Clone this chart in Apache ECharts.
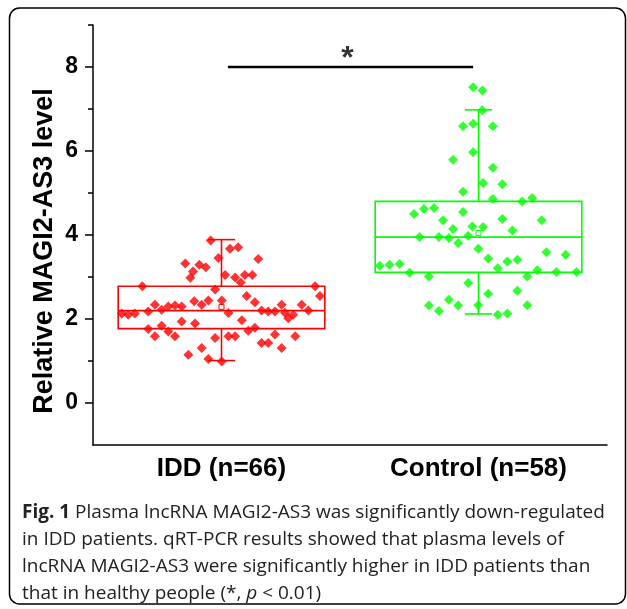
<!DOCTYPE html>
<html>
<head>
<meta charset="utf-8">
<script src="https://cdn.jsdelivr.net/npm/echarts@6/dist/echarts.min.js"></script>
<style>
html, body { margin: 0; padding: 0; background: #fff; }
#main { width: 627px; height: 609px; }
</style>
</head>
<body>
<div id="main"></div>
<script>
// groups and their colours
var groups = ['IDD (n=66)', 'Control (n=58)'];
var groupColors = ['#ff0000', '#00ff00'];

// box statistics: [IDD, Control]
var whiskerLow = [1.01, 2.12];
var q1 = [1.77, 3.11];
var median = [2.20, 3.95];
var q3 = [2.78, 4.80];
var whiskerHigh = [3.89, 6.98];
var means = [2.29, 4.05];

// individual samples, [jittered x, value]
var iddPoints = [
  [0.958, 3.87], [0.988, 3.45], [1.033, 3.67], [1.065, 3.71], [1.143, 3.43], [0.859, 3.32],
  [0.889, 3.13], [0.879, 2.98], [0.914, 3.29], [0.939, 3.23], [1.014, 3.05], [1.053, 2.99],
  [1.091, 3.05], [1.120, 3.05], [1.075, 2.87], [0.975, 2.70], [0.692, 2.78], [1.098, 2.55],
  [1.130, 2.40], [0.949, 2.44], [0.923, 2.34], [0.894, 2.42], [1.001, 2.44], [0.741, 2.34],
  [0.715, 2.18], [0.767, 2.22], [0.793, 2.30], [0.819, 2.32], [0.845, 2.30], [1.027, 2.14],
  [1.156, 2.20], [1.182, 2.18], [1.208, 2.18], [1.234, 2.34], [0.612, 2.13], [0.637, 2.10],
  [0.663, 2.13], [0.845, 1.94], [0.897, 1.89], [1.079, 1.97], [1.260, 2.02], [1.279, 2.10],
  [1.312, 2.34], [1.338, 2.20], [1.364, 2.78], [1.383, 2.55], [0.715, 1.76], [0.767, 1.84],
  [0.793, 1.70], [0.819, 1.59], [0.741, 1.59], [0.975, 1.55], [1.027, 1.59], [1.053, 1.59],
  [1.104, 1.72], [1.130, 1.79], [1.156, 1.43], [1.182, 1.43], [1.208, 1.63], [1.234, 1.31],
  [1.287, 1.59], [0.871, 1.15], [0.923, 1.31], [0.949, 1.05], [1.001, 0.99], [1.247, 2.15]
];
var controlPoints = [
  [1.979, 7.52], [2.015, 7.44], [2.015, 6.97], [1.940, 6.59], [1.979, 6.65], [2.056, 6.59],
  [1.979, 5.97], [1.901, 5.79], [2.056, 5.60], [2.018, 5.24], [2.093, 5.21], [1.940, 5.03],
  [2.056, 4.86], [2.170, 4.80], [2.209, 4.88], [1.749, 4.50], [1.788, 4.62], [1.827, 4.64],
  [1.940, 4.55], [1.862, 4.35], [1.901, 4.14], [1.976, 4.20], [2.018, 4.19], [2.093, 4.38],
  [2.132, 4.11], [2.246, 4.35], [1.771, 3.95], [1.846, 3.95], [1.885, 3.93], [1.921, 3.81],
  [1.960, 3.98], [1.999, 3.67], [2.038, 3.44], [2.075, 3.21], [2.112, 3.37], [2.151, 3.41],
  [2.264, 3.59], [2.339, 3.53], [1.616, 3.27], [1.654, 3.29], [1.693, 3.31], [1.732, 3.10],
  [1.807, 3.01], [2.190, 3.01], [2.229, 3.16], [2.303, 3.12], [2.381, 3.12], [1.960, 2.86],
  [2.038, 2.60], [2.151, 2.67], [1.807, 2.32], [1.846, 2.19], [1.885, 2.46], [1.921, 2.32],
  [1.999, 2.33], [2.190, 2.33], [2.075, 2.10], [2.112, 2.13]
];

// significance bracket
var sigBar = [[1.025, 8], [1.979, 8]];
var sigMark = [[1.49, 8]];

// y axis ticks
var yMajor = [0, 2, 4, 6, 8];
var yMinor = [1, 3, 5, 7, 9];

var boxHalf = 0.402;
var capHalf = 0.053;

var boxData = groups.map(function (g, i) {
  return [i + 1, whiskerLow[i], q1[i], median[i], q3[i], whiskerHigh[i], means[i]];
});

function renderBox(params, api) {
  var x = api.value(0);
  var color = groupColors[params.dataIndex];
  var p = function (dx, y) { return api.coord([x + dx, y]); };
  var st = { stroke: color, fill: null, lineWidth: 1.6 };
  var lt = p(-boxHalf, api.value(4));
  var rb = p(boxHalf, api.value(2));
  var m = p(0, api.value(6));
  function seg(a, b) {
    return { type: 'line', shape: { x1: a[0], y1: a[1], x2: b[0], y2: b[1] }, style: st };
  }
  return {
    type: 'group',
    children: [
      { type: 'rect', shape: { x: lt[0], y: lt[1], width: rb[0] - lt[0], height: rb[1] - lt[1] }, style: st },
      seg(p(-boxHalf, api.value(3)), p(boxHalf, api.value(3))),
      seg(p(0, api.value(4)), p(0, api.value(5))),
      seg(p(-capHalf, api.value(5)), p(capHalf, api.value(5))),
      seg(p(0, api.value(2)), p(0, api.value(1))),
      seg(p(-capHalf, api.value(1)), p(capHalf, api.value(1))),
      { type: 'rect', shape: { x: m[0] - 2.5, y: m[1] - 2.5, width: 5, height: 5 },
        style: { stroke: color, fill: '#fff', lineWidth: 1 }, z2: 10 }
    ]
  };
}

var myChart = echarts.init(document.getElementById('main'));
var option = {
  backgroundColor: '#fff',
  animation: false,
  grid: { left: 93, top: 25, width: 514, height: 420 },
  xAxis: [
    {
      type: 'category',
      data: groups,
      boundaryGap: true,
      axisLine: { onZero: false, lineStyle: { color: '#000', width: 1.5 } },
      axisTick: { alignWithLabel: true, length: 7, lineStyle: { color: '#000', width: 1.5 } },
      axisLabel: {
        color: '#000', fontFamily: 'Liberation Sans', fontWeight: 'bold', fontSize: 26, margin: 11
      },
      splitLine: { show: false }
    },
    { type: 'value', min: 0.5, max: 2.5, show: false }
  ],
  yAxis: [
    {
      type: 'value', min: -1, max: 9,
      axisLine: { show: true, lineStyle: { color: '#000', width: 1.5 } },
      axisTick: { show: true, customValues: yMajor, length: 8, lineStyle: { color: '#000', width: 1.5 } },
      axisLabel: {
        customValues: yMajor, color: '#000', fontFamily: 'Liberation Sans',
        fontWeight: 'bold', fontSize: 23, margin: 15
      },
      splitLine: { show: false }
    },
    {
      type: 'value', min: -1, max: 9, position: 'left',
      axisLine: { show: false },
      axisTick: { show: true, customValues: yMinor, length: 5, lineStyle: { color: '#000', width: 1.5 } },
      axisLabel: { show: false },
      splitLine: { show: false }
    }
  ],
  series: [
    {
      type: 'custom',
      xAxisIndex: 1,
      yAxisIndex: 0,
      renderItem: renderBox,
      encode: { x: 0, y: [1, 2, 3, 4, 5] },
      data: boxData,
      z: 2
    },
    {
      name: groups[0], type: 'scatter', xAxisIndex: 1, yAxisIndex: 0,
      symbol: 'diamond', symbolSize: 10,
      itemStyle: { color: groupColors[0] },
      data: iddPoints, z: 3
    },
    {
      name: groups[1], type: 'scatter', xAxisIndex: 1, yAxisIndex: 0,
      symbol: 'diamond', symbolSize: 10,
      itemStyle: { color: groupColors[1] },
      data: controlPoints, z: 3
    },
    {
      type: 'line', xAxisIndex: 1, yAxisIndex: 0,
      data: sigBar, symbol: 'none',
      lineStyle: { color: '#000', width: 2.5 }
    },
    {
      type: 'scatter', xAxisIndex: 1, yAxisIndex: 0,
      data: sigMark, symbolSize: 0,
      label: {
        show: true, position: 'top', distance: 0, offset: [0, 8], formatter: '*',
        color: '#000', fontFamily: 'Liberation Sans', fontWeight: 'bold', fontSize: 32
      }
    }
  ],
  graphic: [
    {
      type: 'rect',
      shape: { x: 9.5, y: 8, width: 616, height: 596, r: 10 },
      style: { fill: null, stroke: '#000', lineWidth: 1.5 },
      silent: true
    },
    {
      type: 'text',
      x: 45, y: 251, rotation: Math.PI / 2,
      style: {
        text: 'Relative MAGI2-AS3 level',
        fill: '#000', font: 'bold 27px "Liberation Sans"',
        align: 'center', verticalAlign: 'middle'
      }
    },
    {
      type: 'text',
      left: 22, top: 499,
      style: {
        text: '{b|Fig. 1} Plasma lncRNA MAGI2-AS3 was significantly down-regulated\n' +
              'in IDD patients. qRT-PCR results showed that plasma levels of\n' +
              'lncRNA MAGI2-AS3 were significantly higher in IDD patients than\n' +
              'that in healthy people (*, {i|p} < 0.01)',
        fill: '#222', font: '19px "Open Sans"', lineHeight: 27,
        rich: {
          b: { fontWeight: 'bold', fontFamily: 'Open Sans', fontSize: 19, fill: '#222' },
          i: { fontStyle: 'italic', fontFamily: 'Open Sans', fontSize: 19, fill: '#222' }
        }
      }
    }
  ]
};
myChart.setOption(option);
</script>
</body>
</html>
